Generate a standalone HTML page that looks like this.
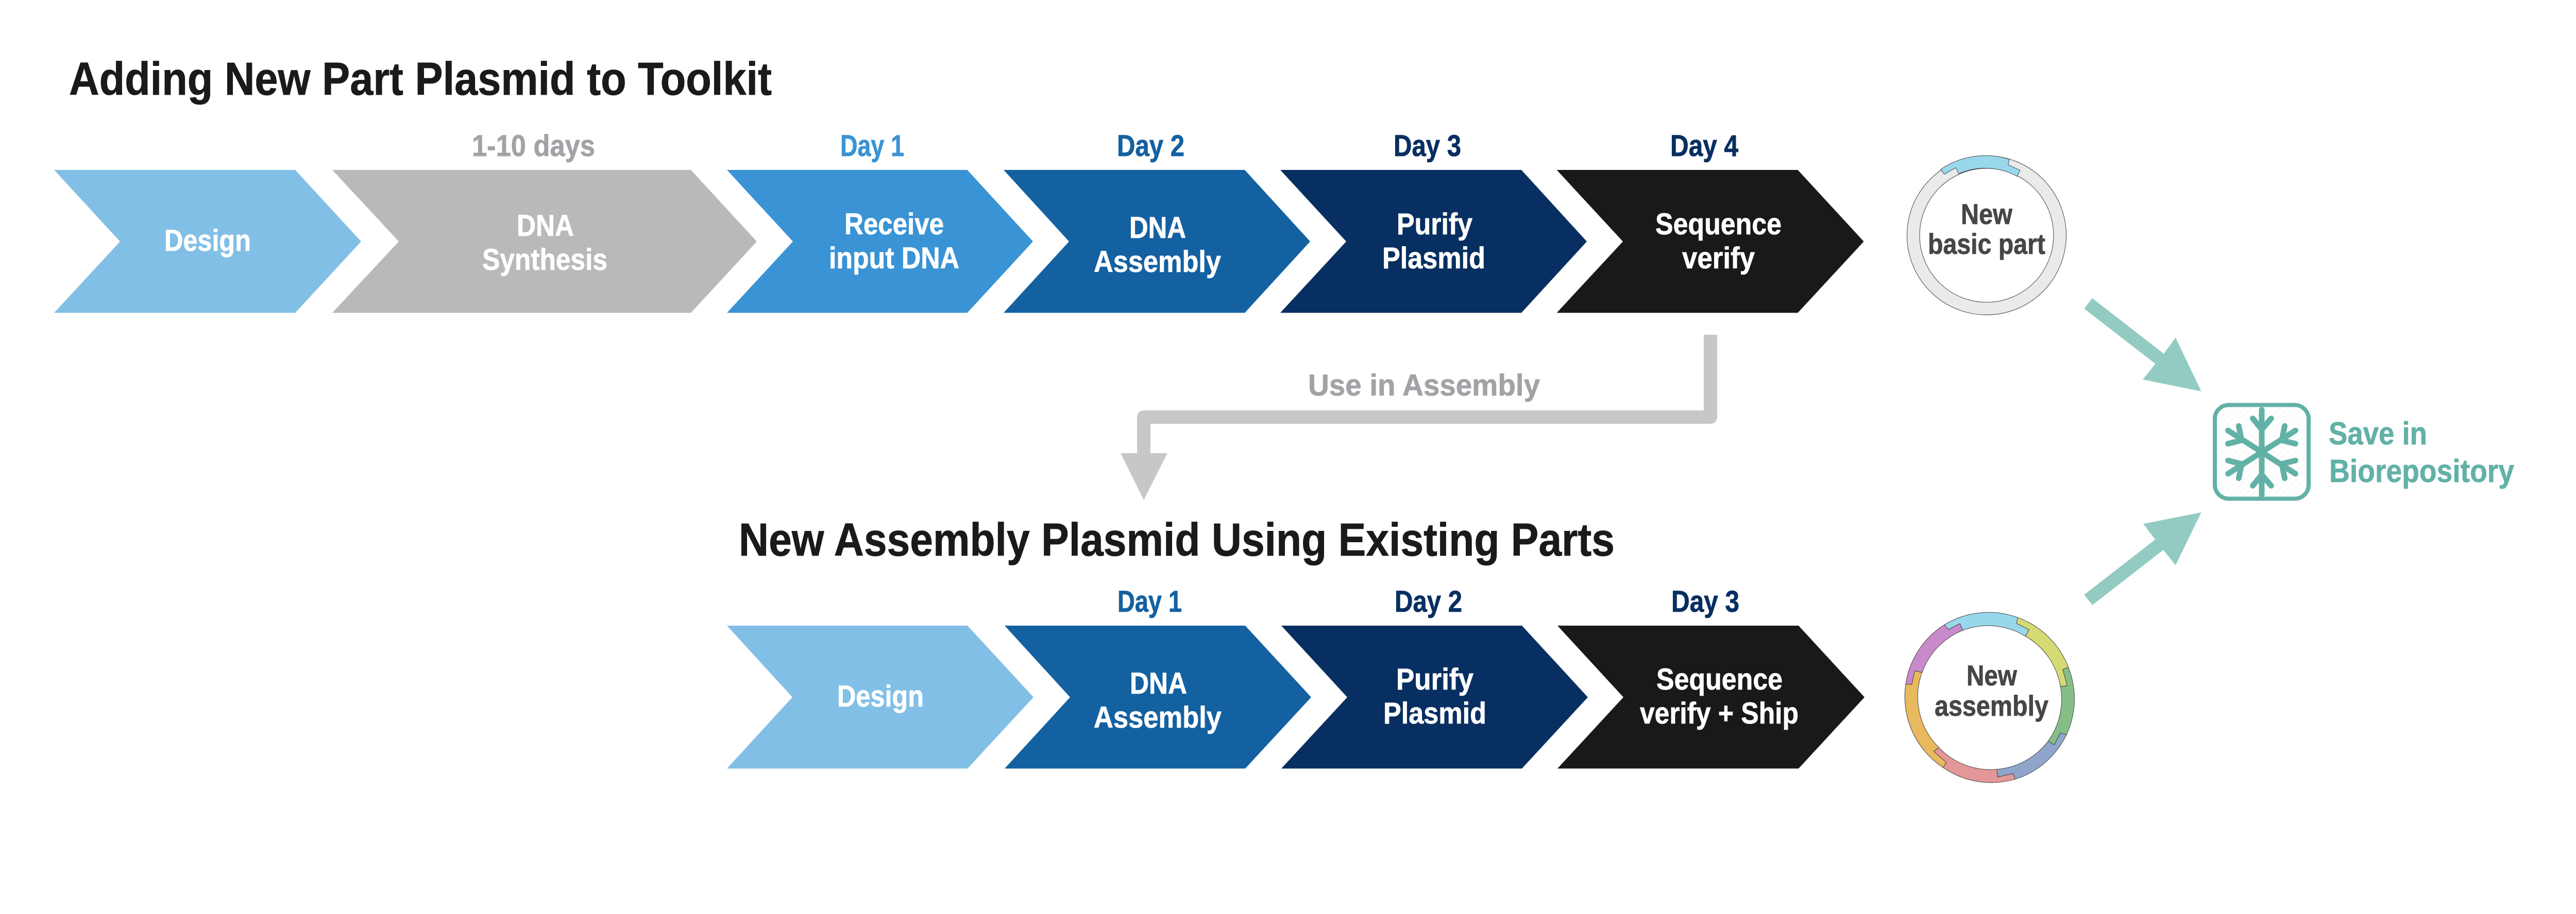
<!DOCTYPE html>
<html>
<head>
<meta charset="utf-8">
<title>Adding New Part Plasmid to Toolkit</title>
<style>
html,body{margin:0;padding:0;background:#fff;width:5025px;height:1775px;overflow:hidden}
svg{display:block}
text{font-family:"Liberation Sans",sans-serif;font-weight:700;font-size:58px;stroke-width:0.8px}
.t{font-size:90px;fill:#1a1a1a;stroke:#1a1a1a}
.w{fill:#fff;stroke:#fff}
.g{fill:#a2a3a7;stroke:#a2a3a7}
.d1{fill:#3a93d4;stroke:#3a93d4}.d2{fill:#1461a1;stroke:#1461a1}.d3{fill:#082f61;stroke:#082f61}
.k{fill:#464646;stroke:#464646;font-size:56px}
.s{fill:#62b1a6;stroke:#62b1a6;font-size:62px}
</style>
</head>
<body>
<svg width="5025" height="1775" viewBox="0 0 5025 1775" xmlns="http://www.w3.org/2000/svg">
<defs>
<pattern id="h" width="10" height="10" patternUnits="userSpaceOnUse" patternTransform="rotate(45)"><rect width="10" height="10" fill="#fff"/><line x1="0" y1="0" x2="0" y2="10" stroke="#f1f3f2" stroke-width="2"/></pattern>
</defs>
<rect width="5025" height="1775" fill="#fff"/>

<!-- Row 1 -->
<text class="t" x="134" y="184" textLength="1364" lengthAdjust="spacingAndGlyphs">Adding New Part Plasmid to Toolkit</text>
<text class="g" x="916" y="303" textLength="239" lengthAdjust="spacingAndGlyphs">1-10 days</text>
<text class="d1" x="1631" y="303" textLength="124" lengthAdjust="spacingAndGlyphs">Day 1</text>
<text class="d2" x="2168" y="303" textLength="131" lengthAdjust="spacingAndGlyphs">Day 2</text>
<text class="d3" x="2705" y="303" textLength="131" lengthAdjust="spacingAndGlyphs">Day 3</text>
<text class="d3" x="3242" y="303" textLength="132" lengthAdjust="spacingAndGlyphs">Day 4</text>

<polygon fill="#82bfe6" points="105,330 573,330 701,469 573,607.5 105,607.5 233,469"/>
<polygon fill="#b9b9b9" points="645,330 1341,330 1469,469 1341,607.5 645,607.5 774,469"/>
<polygon fill="#3a93d4" points="1411,330 1877.5,330 2005,469 1877.5,607.5 1411,607.5 1539,469"/>
<polygon fill="#1461a1" points="1948,330 2416,330 2543,469 2416,607.5 1948,607.5 2075,469"/>
<polygon fill="#082f61" points="2485,330 2953,330 3080,469 2953,607.5 2485,607.5 2613,469"/>
<polygon fill="#191919" points="3021.6,330 3489.5,330 3617.6,469 3489.5,607.5 3021.6,607.5 3150,469"/>

<text class="w" x="319" y="487" textLength="168" lengthAdjust="spacingAndGlyphs">Design</text>
<text class="w" x="1003" y="458" textLength="111" lengthAdjust="spacingAndGlyphs">DNA</text>
<text class="w" x="936" y="524" textLength="243" lengthAdjust="spacingAndGlyphs">Synthesis</text>
<text class="w" x="1639" y="455" textLength="193" lengthAdjust="spacingAndGlyphs">Receive</text>
<text class="w" x="1609" y="521" textLength="253" lengthAdjust="spacingAndGlyphs">input DNA</text>
<text class="w" x="2192" y="462" textLength="110" lengthAdjust="spacingAndGlyphs">DNA</text>
<text class="w" x="2123" y="528" textLength="247" lengthAdjust="spacingAndGlyphs">Assembly</text>
<text class="w" x="2711" y="455" textLength="147" lengthAdjust="spacingAndGlyphs">Purify</text>
<text class="w" x="2683" y="521" textLength="200" lengthAdjust="spacingAndGlyphs">Plasmid</text>
<text class="w" x="3213" y="455" textLength="245" lengthAdjust="spacingAndGlyphs">Sequence</text>
<text class="w" x="3265" y="521" textLength="141" lengthAdjust="spacingAndGlyphs">verify</text>

<!-- Plasmid 1 -->
<circle cx="3856" cy="457" r="154.5" fill="#e9ebea" stroke="#444" stroke-width="1"/>
<circle cx="3856" cy="457" r="130" fill="#fff" stroke="#444" stroke-width="1"/>
<path fill="#99d8ec" stroke="#444" stroke-width="1" d="M3766.7 329 A154.5 154.5 0 0 1 3900 309.3 L3897.7 320 L3921 330.7 L3915 342.3 A130 130 0 0 0 3801.7 337.3 L3796 325.7 L3774 338.3 Z"/>
<text class="k" x="3806" y="435" textLength="100" lengthAdjust="spacingAndGlyphs">New</text>
<text class="k" x="3742" y="493" textLength="228" lengthAdjust="spacingAndGlyphs">basic part</text>

<!-- Connector -->
<path fill="#c6c7c9" d="M3307 650 H3333 V808 Q3333 823 3318 823 H2233 V880 H2266 L2220 971 L2175 880 H2207 V812 Q2207 797 2222 797 H3307 Z"/>
<text class="g" x="2539" y="768" textLength="450" lengthAdjust="spacingAndGlyphs">Use in Assembly</text>

<!-- Teal arrows -->
<polygon fill="#93cbc3" points="4045.5,599.5 4061,579 4200,687 4222.7,655.6 4272.7,760 4159,737 4183.6,706.6"/>
<polygon fill="#93cbc3" points="4045.3,1155 4061.3,1175 4199,1068 4222.7,1097.7 4272.7,995 4160,1017.3 4183.3,1047.7"/>

<!-- Biorepository icon -->
<rect x="4299" y="786.5" width="182" height="182" rx="27" ry="27" fill="url(#h)" stroke="#62b1a6" stroke-width="8"/>
<g fill="none" stroke="#62b1a6" stroke-width="11" stroke-linecap="round" stroke-linejoin="round">
<path d="M4390 796 V961"/>
<path d="M4372.7 812.7 L4390 834 L4408.3 812.7"/>
<path d="M4372.7 943.3 L4390 922 L4408.3 943.3"/>
<path d="M4324.6 836 L4455.4 920"/>
<path d="M4324.6 920 L4455.4 836"/>
<path d="M4345.4 827.3 L4351 855 L4324.6 861.7"/>
<path d="M4434.6 827.3 L4429 855 L4455.4 861.7"/>
<path d="M4345.4 928.7 L4351 901 L4324.6 894.3"/>
<path d="M4434.6 928.7 L4429 901 L4455.4 894.3"/>
</g>
<text class="s" x="4520" y="863" textLength="191" lengthAdjust="spacingAndGlyphs">Save in</text>
<text class="s" x="4521" y="936" textLength="359" lengthAdjust="spacingAndGlyphs">Biorepository</text>

<!-- Row 2 -->
<text class="t" x="1434" y="1079" textLength="1700" lengthAdjust="spacingAndGlyphs">New Assembly Plasmid Using Existing Parts</text>
<text class="d2" x="2169" y="1188" textLength="125" lengthAdjust="spacingAndGlyphs">Day 1</text>
<text class="d3" x="2707" y="1188" textLength="131" lengthAdjust="spacingAndGlyphs">Day 2</text>
<text class="d3" x="3244" y="1188" textLength="132" lengthAdjust="spacingAndGlyphs">Day 3</text>

<polygon fill="#82bfe6" points="1411,1215 1878,1215 2006,1354 1878,1492.5 1411,1492.5 1538,1354"/>
<polygon fill="#1461a1" points="1950,1215 2417,1215 2545,1354 2417,1492.5 1950,1492.5 2077,1354"/>
<polygon fill="#082f61" points="2487,1215 2954,1215 3082,1354 2954,1492.5 2487,1492.5 2615,1354"/>
<polygon fill="#191919" points="3023,1215 3491,1215 3619,1354 3491,1492.5 3023,1492.5 3151,1354"/>

<text class="w" x="1625" y="1372" textLength="168" lengthAdjust="spacingAndGlyphs">Design</text>
<text class="w" x="2193" y="1347" textLength="111" lengthAdjust="spacingAndGlyphs">DNA</text>
<text class="w" x="2123" y="1413" textLength="248" lengthAdjust="spacingAndGlyphs">Assembly</text>
<text class="w" x="2710" y="1339" textLength="150" lengthAdjust="spacingAndGlyphs">Purify</text>
<text class="w" x="2685" y="1405" textLength="200" lengthAdjust="spacingAndGlyphs">Plasmid</text>
<text class="w" x="3215" y="1339" textLength="245" lengthAdjust="spacingAndGlyphs">Sequence</text>
<text class="w" x="3183" y="1405" textLength="308" lengthAdjust="spacingAndGlyphs">verify + Ship</text>

<!-- Plasmid 2 -->
<g transform="translate(3620 1160) scale(0.33333)" stroke="#444" stroke-width="3">
<circle cx="726.5" cy="584" r="416" fill="#fff" stroke="none"/>
<path fill="#99d8ec" d="M462 160 A495 495 0 0 1 890 118 L882 152 L955 188 L935 227 A416 416 0 0 0 570 192 L552 153 L485 188 Z"/>
<path fill="#d6da75" d="M890 118 A495 495 0 0 1 1184 408 L1152 420 L1177 515 L1138 520 A416 416 0 0 0 935 227 L955 188 L882 152 Z"/>
<path fill="#86bf85" d="M1184 408 A495 495 0 0 1 1173 800 L1137 790 L1102 860 L1066 838 A416 416 0 0 0 1138 520 L1177 515 L1152 420 Z"/>
<path fill="#8fa5cb" d="M1173 800 A495 495 0 0 1 873 1060 L862 1027 L772 1047 L768 1002 A416 416 0 0 0 1066 838 L1102 860 L1137 790 Z"/>
<path fill="#e39799" d="M873 1060 A495 495 0 0 1 455 992 L473 962 L400 898 L430 875 A416 416 0 0 0 768 1002 L772 1047 L862 1027 Z"/>
<path fill="#e9b95f" d="M455 992 A495 495 0 0 1 237 505 L272 508 L290 428 L332 438 A416 416 0 0 0 430 875 L400 898 L473 962 Z"/>
<path fill="#c98acb" d="M237 505 A495 495 0 0 1 462 160 L485 188 L552 153 L570 192 A416 416 0 0 0 332 438 L290 428 L272 508 Z"/>
</g>
<text class="k" x="3817" y="1331" textLength="98" lengthAdjust="spacingAndGlyphs">New</text>
<text class="k" x="3755" y="1390" textLength="221" lengthAdjust="spacingAndGlyphs">assembly</text>
</svg>
</body>
</html>
